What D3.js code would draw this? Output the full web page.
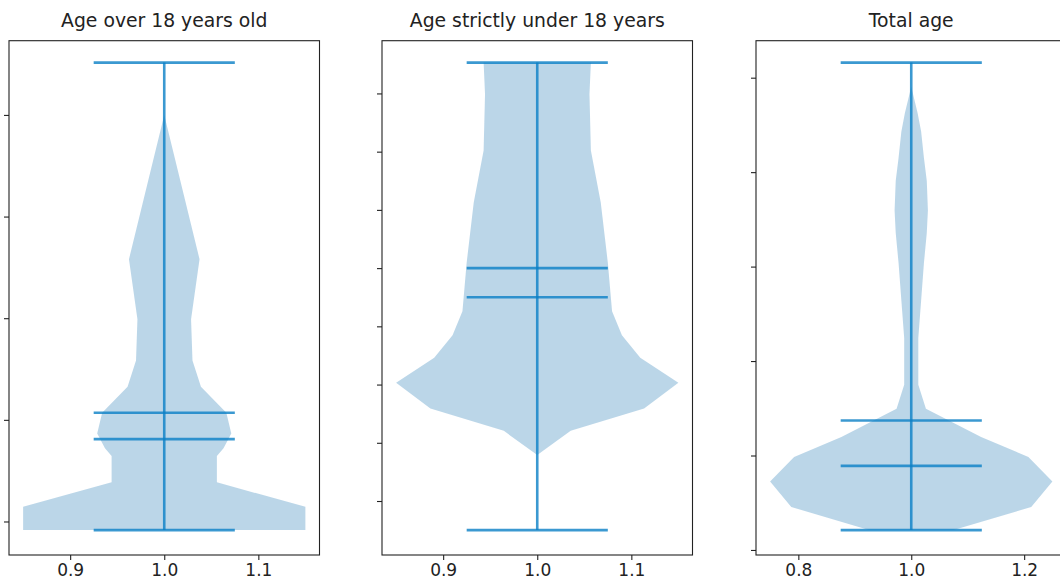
<!DOCTYPE html>
<html>
<head>
<meta charset="utf-8">
<script src="https://cdn.jsdelivr.net/npm/d3@7"></script>
<style>
  html, body { margin: 0; padding: 0; background: #fff; }
  svg { display: block; font-family: "DejaVu Sans", sans-serif; }
</style>
</head>
<body>
<svg id="chart" width="1060" height="588"></svg>
<script>
// ---- data ----
const titles = ["Age over 18 years old", "Age strictly under 18 years", "Total age"];
const violinWidths = [0.3, 0.3, 0.5];

// outline of each violin: value levels and relative density (1 = widest)
const over18Values  = [18.3, 22.9, 27.7, 32.9, 34.4, 37.3, 41.4, 46.5, 51.7, 59.8, 71.6, 100, 110.3];
const over18Density = [1.0, 1.0, 0.373, 0.373, 0.42, 0.475, 0.44, 0.26, 0.20, 0.19, 0.25, 0.0, 0.0];

const under18Values  = [1.0, 3.58, 4.41, 5.18, 6.06, 6.92, 7.69, 8.52, 10.19, 12.25, 14.04, 15.97, 17.06];
const under18Density = [0.0, 0.0, 0.237, 0.757, 1.0, 0.73, 0.60, 0.53, 0.50, 0.45, 0.38, 0.37, 0.38];

const totalValues  = [4.2, 9.1, 14.5, 19.7, 23.9, 29.9, 35.0, 44.9, 52.8, 60.8, 67.1, 71.9, 78.2, 83.0, 88.6, 92.5, 98.1, 103.2];
const totalDensity = [0.3, 0.85, 1.0, 0.83, 0.495, 0.104, 0.05, 0.05, 0.07, 0.09, 0.11, 0.118, 0.11, 0.09, 0.07, 0.045, 0.0, 0.0];

const mins    = [18.3, 1.0, 4.2];
const maxs    = [110.3, 17.06, 103.2];
const means   = [41.4, 10.0, 27.4];
const medians = [36.2, 9.0, 17.8];

const yTicks = [
  [20, 40, 60, 80, 100],
  [2, 4, 6, 8, 10, 12, 14, 16],
  [0, 20, 40, 60, 80, 100]
];
const xTicks = [
  [0.9, 1.0, 1.1],
  [0.9, 1.0, 1.1],
  [0.8, 1.0, 1.2]
];

const outlines = [
  [over18Values, over18Density],
  [under18Values, under18Density],
  [totalValues, totalDensity]
];

// ---- layout ----
const svg = d3.select("#chart");
const panelLeft = [9, 382, 756];
const panelW = 310.5;
const plotTop = 40.7, plotBottom = 555;
const lineColor = "#0a7fc6";
const fillColor = "#1f77b4";

titles.forEach((title, i) => {
  const w = violinWidths[i];
  const xPad = 0.05 * w;
  const x = d3.scaleLinear()
    .domain([1 - w / 2 - xPad, 1 + w / 2 + xPad])
    .range([panelLeft[i], panelLeft[i] + panelW]);
  const span = maxs[i] - mins[i];
  const y = d3.scaleLinear()
    .domain([mins[i] - 0.05 * span, maxs[i] + 0.05 * span])
    .range([plotBottom - 1.5, plotTop - 1.5]);

  const g = svg.append("g");

  // violin body
  const [vals, dens] = outlines[i];
  const pts = vals.map((v, k) => ({ v, d: dens[k] }));
  const area = d3.area()
    .y(p => y(p.v))
    .x0(p => x(1 - p.d * w / 2))
    .x1(p => x(1 + p.d * w / 2))
    .curve(d3.curveLinear);
  g.append("path")
    .datum(pts)
    .attr("d", area)
    .attr("fill", fillColor)
    .attr("fill-opacity", 0.3)
    .attr("stroke", "none");

  // vertical bar
  g.append("line")
    .attr("x1", x(1)).attr("x2", x(1))
    .attr("y1", y(mins[i])).attr("y2", y(maxs[i]))
    .attr("stroke", lineColor).attr("stroke-opacity", 0.8)
    .attr("stroke-width", 2.6);

  // horizontal lines: min, max, mean, median
  [mins[i], maxs[i], means[i], medians[i]].forEach(v => {
    g.append("line")
      .attr("x1", x(1 - w / 4)).attr("x2", x(1 + w / 4))
      .attr("y1", y(v)).attr("y2", y(v))
      .attr("stroke", lineColor).attr("stroke-opacity", 0.8)
      .attr("stroke-width", 2.6);
  });

  // axes
  const xAxis = d3.axisBottom(x).tickValues(xTicks[i]).tickFormat(d3.format(".1f")).tickSize(5).tickSizeOuter(0);
  const gx = g.append("g").attr("transform", `translate(0,${plotBottom})`).call(xAxis);
  gx.select(".domain").remove();
  gx.selectAll(".tick line").attr("stroke", "#222").attr("stroke-width", 1.1);
  gx.selectAll(".tick text")
    .attr("y", 9).attr("dy", "0.71em")
    .attr("fill", "#222")
    .style("font-size", "17px")
    .style("font-family", "DejaVu Sans");

  const yAxis = d3.axisLeft(y).tickValues(yTicks[i]).tickFormat("").tickSize(5).tickSizeOuter(0);
  const gy = g.append("g").attr("transform", `translate(${panelLeft[i]},0)`).call(yAxis);
  gy.select(".domain").remove();
  gy.selectAll(".tick line").attr("stroke", "#222").attr("stroke-width", 1.1);

  // frame
  g.append("rect")
    .attr("x", panelLeft[i]).attr("y", plotTop)
    .attr("width", panelW).attr("height", plotBottom - plotTop)
    .attr("fill", "none").attr("stroke", "#222").attr("stroke-width", 1.1);

  // title
  g.append("text")
    .attr("x", panelLeft[i] + panelW / 2)
    .attr("y", 27)
    .attr("text-anchor", "middle")
    .attr("fill", "#222")
    .style("font-size", "18.8px")
    .text(title);
});
</script>
</body>
</html>
